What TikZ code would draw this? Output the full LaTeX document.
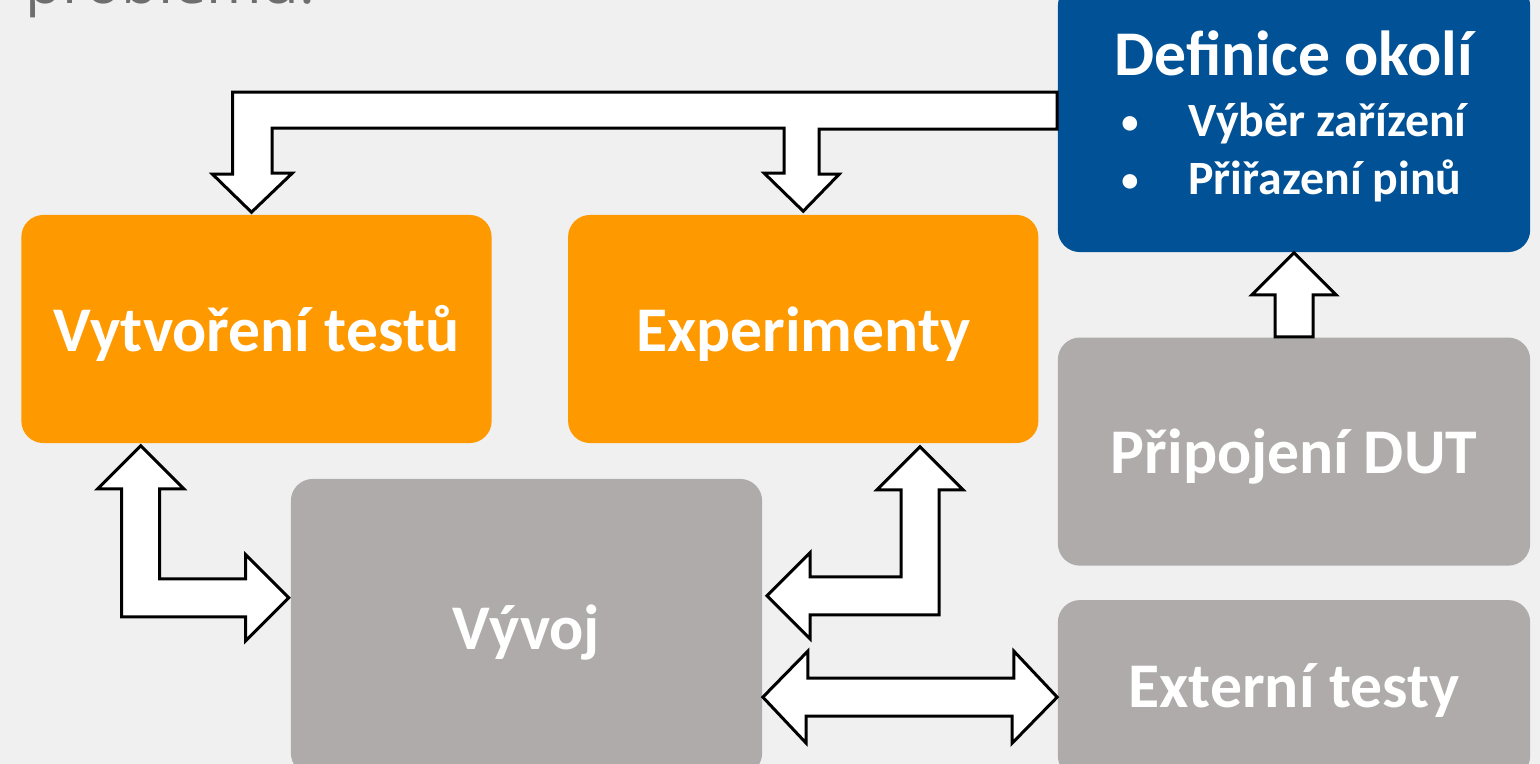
\documentclass[tikz,border=0pt]{standalone}
\usepackage{fontspec}
\setmainfont{Carlito}
\newfontfamily\slidefont{Open Sans}
\usetikzlibrary{positioning,calc}

\definecolor{pagebg}{HTML}{F0F0F0}
\definecolor{boxorange}{HTML}{FF9900}
\definecolor{boxgray}{HTML}{AFABAB}
\definecolor{boxblue}{HTML}{005195}
\definecolor{titlegray}{HTML}{6E6E6E}

\newcommand{\itembullet}{\raisebox{0.15ex}{\scalebox{0.72}{\textbullet}}}

\begin{document}
\begin{tikzpicture}[
  x=0.01cm, y=-0.01cm,
  font=\fontsize{18.1}{21}\selectfont\bfseries,
  box/.style={rounded corners=0.22cm, inner sep=0pt, text=white, align=center, minimum width=4.7cm, minimum height=2.28cm},
  labeltext/.style={text height=0.44cm, text depth=0cm},
  orangebox/.style={box, labeltext, fill=boxorange},
  graybox/.style={box, labeltext, fill=boxgray, minimum width=4.72cm},
  bluebox/.style={box, fill=boxblue, minimum width=4.72cm},
  blockarrow/.style={draw=black, fill=white, line width=0.03cm, line join=miter}
]

% ========== page ==========
\useasboundingbox (0,0) rectangle (1540,764);
\clip (0,0) rectangle (1540,764);
\fill[pagebg] (0,0) rectangle (1540,764);

% slide title, only its last line peeks in
\node[anchor=base west, inner sep=0pt, text=titlegray, font=\slidefont\fontsize{17}{20}\selectfont] (titletail) at (25,4) {problému.};

% ========== LEFT: tests and experiments ==========
\node[orangebox] (tests) at (256.5,329) {Vytvoření testů};
\node[orangebox, right=0.75cm of tests] (experiments) {Experimenty};

% ========== CENTER: development ==========
\node[graybox, minimum width=4.71cm, minimum height=2.96cm] (devel) at (526.5,627) {Vývoj};

% ========== RIGHT: column ==========
\node[bluebox, minimum height=2.68cm] (environment) at (1294,118) {%
\rule{0pt}{0.51cm}Definice okolí\\[-3.5pt]
{\fontsize{13.6}{16.5}\selectfont
\begin{tabular}[t]{@{}l@{\hspace{0.5cm}}l@{}}
\itembullet & Výběr zařízení\\
\itembullet & Přiřazení pinů\\
\end{tabular}}
};
\node[graybox, below=0.84cm of environment] (dut) {Připojení DUT};
\node[graybox, below=0.33cm of dut, minimum height=1.78cm, text height=0.36cm] (external) {Externí testy};

% -----------------------------
% Block arrows
% -----------------------------
\coordinate (tipA) at ($(tests.north)+(-5,-2)$);
\coordinate (tipB) at ($(experiments.north)+(0,-3)$);

% ===== Environment -> tests, experiments (T-shape) =====
\draw[blockarrow] (tipA) -- ++(-39,-38) -- ++(20,0) -- ++(0,-82) coordinate (bandtop)
  -- (bandtop -| environment.west) -- ++(0,37) -- ++(-238,0) -- ++(0,45) -- ++(20,0)
  -- (tipB) -- ++(-39,-38) -- ++(20,0) -- ++(0,-45) -- ++(-512,0) -- ++(0,45) -- ++(20,0) -- cycle;

% ===== Tests <-> development (L-shape) =====
\coordinate (tipC) at ($(tests.south west)+(120,2)$);
\draw[blockarrow] (tipC) -- ++(43,43) -- ++(-24,0) -- ++(0,90) -- ++(86,0) -- ++(0,-24)
  -- ++(43,43) -- ++(-43,43) -- ++(0,-24) -- ++(-124,0) -- ++(0,-128) -- ++(-24,0) -- cycle;

% ===== Experiments <-> development (L-shape) =====
\coordinate (tipD) at ($(experiments.south east)+(-119,3)$);
\draw[blockarrow] (tipD) -- ++(43,43) -- ++(-24,0) -- ++(0,125) -- ++(-129,0) -- ++(0,24)
  -- ++(-43,-43) -- ++(43,-43) -- ++(0,24) -- ++(91,0) -- ++(0,-87) -- ++(-24,0) -- cycle;

% ===== Development <-> external tests (horizontal) =====
\coordinate (tipE) at ($(external.west)+(0,8)$);
\draw[blockarrow] (devel.east |- tipE) -- ++(45,-46) -- ++(0,27) -- ++(206,0) -- ++(0,-27)
  -- (tipE) -- ++(-45,46) -- ++(0,-27) -- ++(-206,0) -- ++(0,27) -- cycle;

% ===== DUT -> environment (vertical) =====
\draw[blockarrow] (environment.south) -- ++(42,42) -- ++(-23,0) -- ($(dut.north)+(19,0)$)
  -- ++(-38,0) -- ++(0,-42) -- ++(-23,0) -- cycle;

\end{tikzpicture}
\end{document}
